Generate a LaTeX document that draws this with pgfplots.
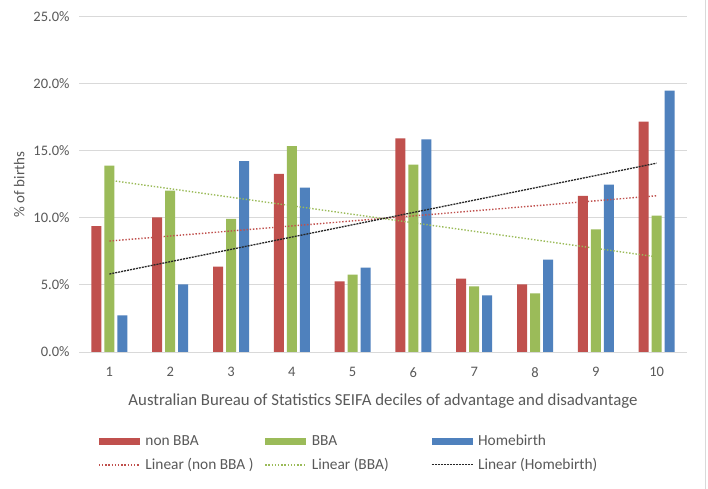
\documentclass[border=0pt]{standalone}
\usepackage{pgfplots}
\pgfplotsset{compat=1.18}
\usepackage{fontspec}
\setmainfont{Carlito}
\definecolor{cred}{HTML}{C0504D}
\definecolor{cgreen}{HTML}{9BBB59}
\definecolor{cblue}{HTML}{4F81BD}
\definecolor{ctext}{HTML}{595959}
\definecolor{cgrid}{HTML}{D9D9D9}
\pgfplotsset{
 barleg/.style={legend image code/.code={\fill[##1] (0bp,-3.5bp) rectangle (41bp,3.5bp);}},
 lineleg/.style={legend image code/.code={\draw[##1] (0bp,0bp) -- (41bp,0bp);}},
}
\pgfplotstableread{
x nonbba bba home
1 9.40 13.90 2.74
2 10.05 12.04 5.05
3 6.37 9.93 14.25
4 13.30 15.37 12.26
5 5.27 5.77 6.29
6 15.95 13.98 15.87
7 5.47 4.90 4.23
8 5.05 4.38 6.89
9 11.66 9.15 12.49
10 17.19 10.17 19.50
}\data
\begin{document}
\begin{tikzpicture}
\useasboundingbox (0,0) rectangle (708bp,489bp);
\fill[white] (0,0) rectangle (708bp,489bp);
\draw[cgrid, line width=1bp] (705.5bp,0) -- (705.5bp,489bp);
\begin{axis}[
 at={(79bp,137bp)}, anchor=south west,
 scale only axis, width=608bp, height=335bp,
 xmin=0.5, xmax=10.5, ymin=0, ymax=25,
 xtick={1,...,10}, ytick={0,5,...,25},
 ymajorgrids, grid style={cgrid, line width=1bp},
 axis line style={draw=none},
 major tick length=0pt,
 tick label style={font=\fontsize{14.5bp}{17bp}\selectfont, text=ctext},
 /pgf/number format/assume math mode=true,
 yticklabel={\pgfmathprintnumber[fixed,fixed zerofill,precision=1]{\tick}\%},
 yticklabel style={xshift=-6bp},
 xticklabel style={yshift=-12bp},
 label style={text=ctext},
 xlabel style={font=\fontsize{16.8bp}{19bp}\selectfont, yshift=-9bp},
 ylabel style={font=\fontsize{15bp}{18bp}\selectfont, yshift=2bp},
 xlabel={Australian Bureau of Statistics SEIFA deciles of advantage and disadvantage},
 ylabel={\% of births},
 legend columns=3,
 legend style={draw=none, at={(0.031,-0.242)}, anchor=north west, inner sep=0pt,
   font=\fontsize{15.4bp}{18bp}\selectfont, text=ctext, row sep=7bp,
   nodes={inner sep=2bp}},
 legend cell align=left,
]
\addplot[ybar, bar width=10bp, bar shift=-13bp, fill=cred, draw=none, barleg] table[x=x,y=nonbba]{\data};
\addlegendentry{\hspace{3bp}\makebox[117bp][l]{non BBA}}
\addplot[ybar, bar width=10bp, bar shift=0bp, fill=cgreen, draw=none, barleg] table[x=x,y=bba]{\data};
\addlegendentry{\hspace{3bp}\makebox[117bp][l]{BBA}}
\addplot[ybar, bar width=10bp, bar shift=13bp, fill=cblue, draw=none, barleg] table[x=x,y=home]{\data};
\addlegendentry{\hspace{3bp}Homebirth}
\addplot[cred, line width=1.4bp, dash pattern=on 1.4bp off 1.8bp, lineleg] coordinates {(1,8.28) (10,11.66)};
\addlegendentry{\hspace{3bp}\makebox[117bp][l]{Linear (non BBA )}}
\addplot[cgreen, line width=1.4bp, dash pattern=on 1.4bp off 1.8bp, lineleg] coordinates {(1,12.82) (10,7.10)};
\addlegendentry{\hspace{3bp}\makebox[117bp][l]{Linear (BBA)}}
\addplot[black!85, line width=1.3bp, dash pattern=on 2bp off 1bp, lineleg] coordinates {(1,5.82) (10,14.09)};
\addlegendentry{\hspace{3bp}Linear (Homebirth)}
\end{axis}
\end{tikzpicture}
\end{document}
